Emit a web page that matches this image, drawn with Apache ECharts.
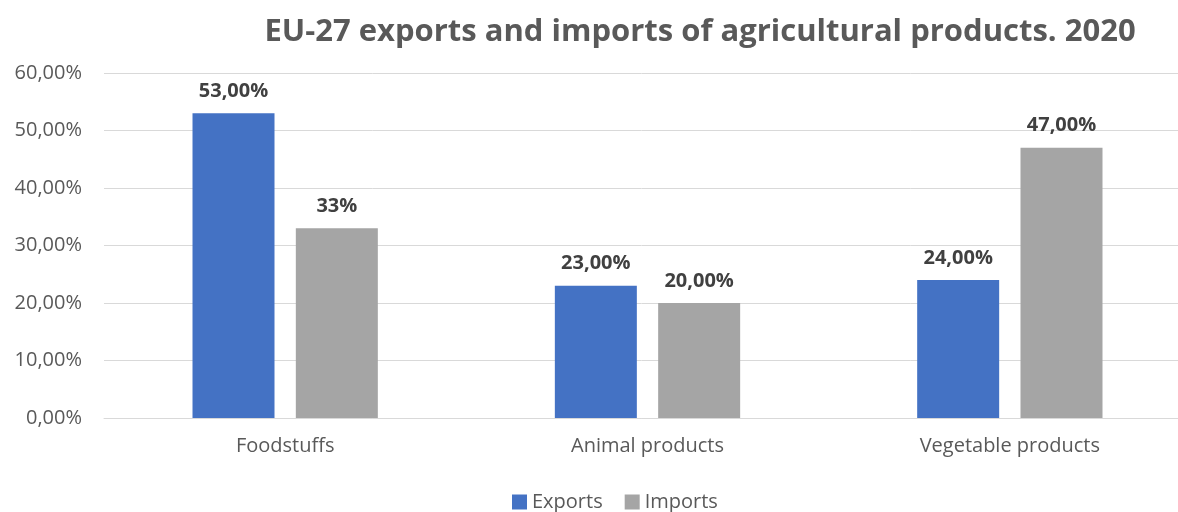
<!DOCTYPE html>
<html>
<head>
<meta charset="utf-8">
<script src="https://cdn.jsdelivr.net/npm/echarts@6/dist/echarts.min.js"></script>
<style>
  html, body { margin: 0; padding: 0; background: #fff; }
  #chart { width: 1178px; height: 512px; }
</style>
</head>
<body>
<div id="chart"></div>
<script>
const categories = ['Foodstuffs', 'Animal products', 'Vegetable products'];
const exportsValues = [53, 23, 24];
const importsValues = [33, 20, 47];
// decimals shown in each value label
const exportsDecimals = [2, 2, 2];
const importsDecimals = [0, 2, 2];
const yTicks = { min: 0, max: 60, interval: 10 };

const FONT = '"Open Sans", "Liberation Sans", sans-serif';

function pct(v, d) {
  return v.toFixed(d).replace('.', ',') + '%';
}

const chart = echarts.init(document.getElementById('chart'));

function labelFor(decimals) {
  return {
    show: true,
    position: 'top',
    distance: 12,
    color: '#404040',
    fontFamily: FONT,
    fontWeight: 'bold',
    fontSize: 20,
    formatter: p => pct(p.value, decimals[p.dataIndex])
  };
}

chart.setOption({
  animation: false,
  title: {
    text: 'EU-27 exports and imports of agricultural products. 2020',
    left: 695,
    textAlign: 'center',
    top: 12,
    textStyle: { color: '#595959', fontFamily: FONT, fontWeight: 'bold', fontSize: 31 }
  },
  legend: {
    top: 487,
    left: 507,
    itemWidth: 15,
    itemHeight: 15,
    itemGap: 22,
    icon: 'rect',
    textStyle: { color: '#595959', fontFamily: FONT, fontSize: 20 },
    data: ['Exports', 'Imports']
  },
  // the plot runs a little past the right edge of the canvas
  grid: { left: 104, width: 1087, top: 73, height: 345, outerBoundsMode: 'none', containLabel: false },
  xAxis: {
    type: 'category',
    data: categories,
    axisLine: { show: true, lineStyle: { color: '#D9D9D9' } },
    axisTick: { show: false },
    axisLabel: { color: '#595959', fontFamily: FONT, fontSize: 20, margin: 18 }
  },
  yAxis: {
    type: 'value',
    min: yTicks.min,
    max: yTicks.max,
    interval: yTicks.interval,
    axisLine: { show: false },
    axisTick: { show: false },
    splitLine: { lineStyle: { color: '#D9D9D9', width: 1 } },
    axisLabel: {
      color: '#595959', fontFamily: FONT, fontSize: 20, margin: 22,
      formatter: v => pct(v, 2)
    }
  },
  series: [
    {
      name: 'Exports',
      type: 'bar',
      data: exportsValues,
      barWidth: 82,
      barGap: '26%',
      itemStyle: { color: '#4472C4' },
      label: labelFor(exportsDecimals)
    },
    {
      name: 'Imports',
      type: 'bar',
      data: importsValues,
      barWidth: 82,
      itemStyle: { color: '#A5A5A5' },
      label: labelFor(importsDecimals)
    }
  ]
});
</script>
</body>
</html>
